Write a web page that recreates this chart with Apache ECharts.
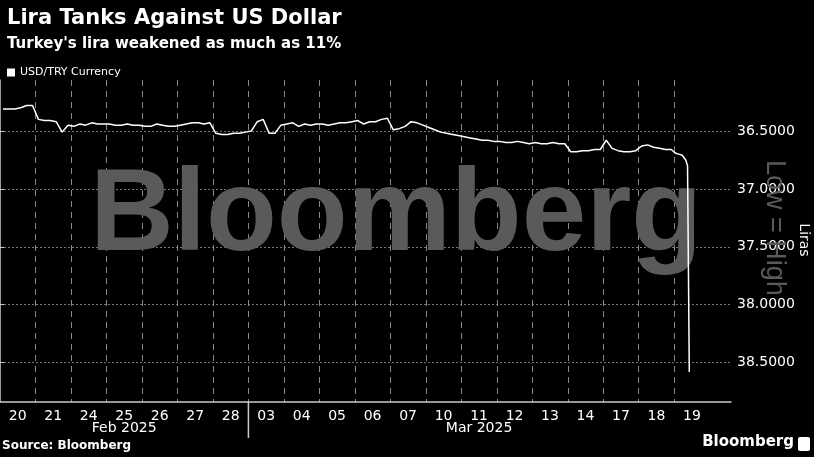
<!DOCTYPE html>
<html><head><meta charset="utf-8">
<script src="https://cdn.jsdelivr.net/npm/echarts@6/dist/echarts.min.js"></script>
<style>html,body{margin:0;background:#000}#c{width:814px;height:457px}</style>
</head><body><div id="c"></div>
<script>
const dayLabels = ['20','21','24','25','26','27','28','03','04','05','06','07','10','11','12','13','14','17','18','19'];
const dayValues = [
 [36.31,36.31,36.31,36.30,36.28,36.28],
 [36.40,36.41,36.41,36.42,36.51,36.45],
 [36.46,36.44,36.45,36.43,36.44,36.44],
 [36.44,36.45,36.45,36.44,36.45,36.45],
 [36.46,36.46,36.44,36.45,36.46,36.46],
 [36.45,36.44,36.43,36.43,36.44,36.43],
 [36.52,36.53,36.53,36.52,36.52,36.51],
 [36.50,36.42,36.40,36.52,36.52,36.45],
 [36.44,36.43,36.46,36.44,36.45,36.44],
 [36.44,36.45,36.44,36.43,36.43,36.42],
 [36.41,36.44,36.42,36.42,36.40,36.39],
 [36.49,36.48,36.46,36.42,36.43,36.45],
 [36.47,36.49,36.51,36.52,36.53,36.54],
 [36.55,36.56,36.57,36.58,36.58,36.59],
 [36.59,36.60,36.60,36.59,36.60,36.61],
 [36.60,36.61,36.61,36.60,36.61,36.61],
 [36.68,36.68,36.67,36.67,36.66,36.66],
 [36.58,36.65,36.67,36.68,36.68,36.67],
 [36.63,36.62,36.64,36.65,36.66,36.66],
 [36.69,36.70,36.70,36.71,36.71,36.72,36.75,36.80,38.58,null,null,null,null,null,null,null,null,null,null,null]
];
const months = [['Feb 2025',0,7],['Mar 2025',7,20]];
const seriesName = 'USD/TRY Currency';
const yAxisName = 'Liras';

const data = [];
dayValues.forEach((arr,i)=>arr.forEach((v,j)=>{ if(v!==null) data.push([i+(j+0.5)/arr.length, v]); }));
const boundaries = dayLabels.map((d,i)=>i).slice(1);
const centers = dayLabels.map((d,i)=>i+0.5);
const F = '"DejaVu Sans", sans-serif';
const chart = echarts.init(document.getElementById('c'));
chart.setOption({
  backgroundColor:'#000',
  animation:false,
  title:[{text:'Lira Tanks Against US Dollar',left:2,top:3,textStyle:{color:'#fff',fontSize:21,fontWeight:'bold',fontFamily:F}},
         {text:"Turkey's lira weakened as much as 11%",left:2,top:32,textStyle:{color:'#fff',fontSize:15,fontWeight:'bold',fontFamily:F}}],
  legend:{left:2,top:62,itemWidth:8,itemHeight:8,icon:'rect',itemGap:4,textStyle:{color:'#fff',fontSize:11,fontFamily:F},data:[{name:seriesName,itemStyle:{color:'#fff'}}]},
  grid:{left:0,right:83,top:80,bottom:55,outerBoundsMode:'none',containLabel:false},
  xAxis:{type:'value',min:0,max:20.6,
    axisLine:{show:true,lineStyle:{color:'#ccc',width:1.5}},
    axisTick:{show:false,customValues:boundaries},
    axisLabel:{customValues:centers,color:'#fff',fontSize:14,fontFamily:F,margin:7,formatter:v=>dayLabels[Math.floor(v)]},
    splitLine:{show:true,lineStyle:{color:'#888',type:[6,5]}}},
  yAxis:{type:'value',position:'right',inverse:true,min:36.06,max:38.84,
    axisLabel:{customValues:[36.5,37,37.5,38,38.5],color:'#fff',fontSize:14,fontFamily:F,formatter:v=>v.toFixed(4),margin:6},
    axisTick:{show:true,customValues:[36.5,37,37.5,38,38.5],length:4,lineStyle:{color:'#ccc'}},
    axisLine:{show:true,lineStyle:{color:'#ccc',width:1.5}},
    splitLine:{show:true,lineStyle:{color:'#777',type:[2,2]}}},
  series:[{name:seriesName,type:'line',data:data,showSymbol:false,lineStyle:{color:'#fff',width:1.5},itemStyle:{color:'#fff'},z:5}]
});
const y0 = chart.convertToPixel({yAxisIndex:0},38.84);
const g = [
 {type:'text',left:90,top:160,z:1,style:{text:'Bloomberg',fill:'#5a5a5a',font:'bold 116px "Liberation Sans", Arial, sans-serif'}},
 {type:'text',x:788,y:160,rotation:-Math.PI/2,z:1,style:{text:'Low = High',fill:'#5a5a5a',font:'27px "Liberation Sans", Arial, sans-serif'}},
 {type:'text',x:804,y:240,rotation:-Math.PI/2,style:{text:yAxisName,fill:'#fff',font:'14px '+F,align:'center',verticalAlign:'middle'}},
 {type:'text',left:2,top:440,style:{text:'Source: Bloomberg',fill:'#fff',font:'bold 12px '+F}},
 {type:'text',right:20,top:435,style:{text:'Bloomberg',fill:'#fff',font:'bold 15px '+F}},
 {type:'rect',shape:{x:798,y:437,width:12,height:14,r:2},style:{fill:'#fff'}}
];
months.forEach(([t,a,b])=>{
  const xa=chart.convertToPixel({xAxisIndex:0},a), xb=chart.convertToPixel({xAxisIndex:0},b);
  g.push({type:'text',x:(xa+xb)/2,y:428,style:{text:t,fill:'#fff',font:'14px '+F,align:'center',verticalAlign:'middle'}});
  if(a>0) g.push({type:'line',shape:{x1:xa,y1:y0,x2:xa,y2:y0+36},style:{stroke:'#ccc',lineWidth:1.5}});
});
chart.setOption({graphic:g});
</script></body></html>
